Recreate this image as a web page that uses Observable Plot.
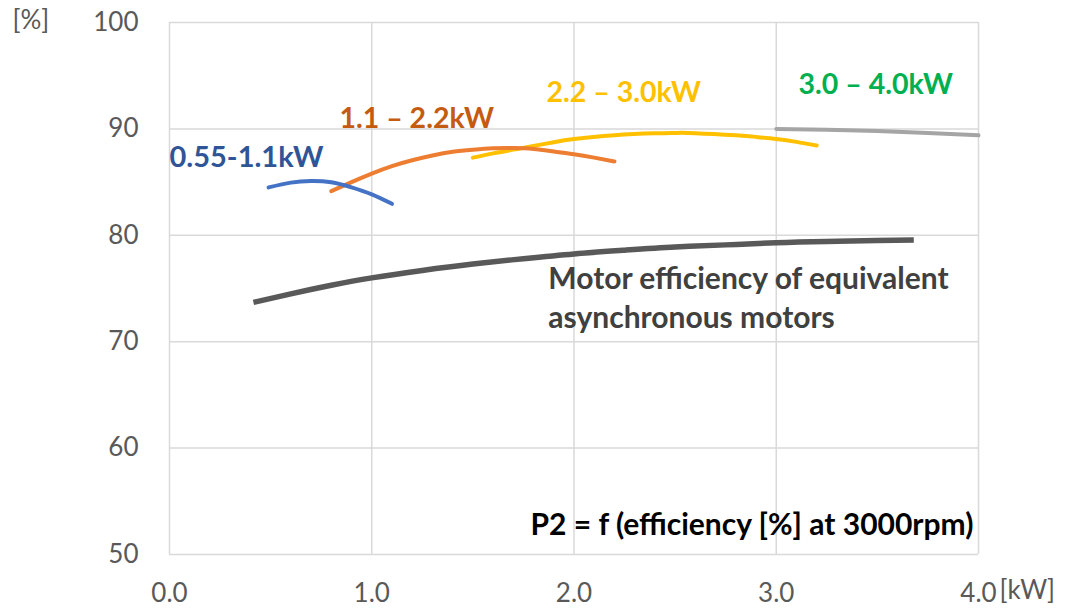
<!DOCTYPE html>
<html><head><meta charset="utf-8">
<script src="https://cdn.jsdelivr.net/npm/d3@7"></script>
<script src="https://cdn.jsdelivr.net/npm/@observablehq/plot@0.6"></script>
<style>body{margin:0;background:#fff;overflow:hidden}</style>
</head><body><div id="chart"></div>
<script>
// Power [kW] and efficiency [%]
const kwA = [0.49, 0.6, 0.7, 0.8, 0.9, 1.0, 1.1];
const effA = [84.5, 84.95, 85.1, 84.98, 84.5, 83.85, 82.96];

const kwB = [0.8, 0.9, 1.0, 1.1, 1.2, 1.3, 1.4, 1.5, 1.6, 1.7, 1.8, 1.9, 2.0, 2.1, 2.2];
const effB = [84.15, 85.0, 85.8, 86.5, 87.05, 87.5, 87.85, 88.05, 88.18, 88.2, 88.12, 87.88, 87.62, 87.3, 86.94];

const kwC = [1.5, 1.6, 1.7, 1.8, 1.9, 2.0, 2.2, 2.4, 2.5, 2.6, 2.8, 2.9, 3.0, 3.1, 3.2];
const effC = [87.3, 87.7, 88.05, 88.4, 88.75, 89.05, 89.4, 89.58, 89.62, 89.6, 89.4, 89.25, 89.05, 88.78, 88.44];

const kwD = [3.0, 3.25, 3.5, 3.75, 4.0];
const effD = [90.0, 89.92, 89.8, 89.62, 89.4];

const kwAsync = [0.415, 0.6, 0.8, 1.0, 1.25, 1.5, 1.75, 2.0, 2.25, 2.5, 2.75, 3.0, 3.25, 3.5, 3.68];
const effAsync = [73.7, 74.5, 75.3, 76.0, 76.7, 77.3, 77.8, 78.25, 78.6, 78.9, 79.1, 79.3, 79.42, 79.5, 79.55];

const seriesNames = ["0.55-1.1kW", "1.1 – 2.2kW", "2.2 – 3.0kW", "3.0 – 4.0kW", "async"];
const xTicks = [0, 1, 2, 3, 4];
const yTicks = [50, 60, 70, 80, 90, 100];

const seriesData = [[kwA, effA], [kwB, effB], [kwC, effC], [kwD, effD], [kwAsync, effAsync]];
const rows = seriesData.flatMap(([k, e], s) => k.map((v, i) => ({series: seriesNames[s], kw: v, eff: e[i]})));
const of = name => rows.filter(r => r.series === name);

const FONT = "Lato, 'Open Sans', sans-serif";

const chart = Plot.plot({
  width: 1071, height: 610,
  marginLeft: 169, marginRight: 93, marginTop: 22, marginBottom: 56,
  style: {fontFamily: FONT, fontSize: "26px", color: "#595959", background: "white", overflow: "visible"},
  x: {domain: [0, 4], label: null},
  y: {domain: [50, 100], label: null},
  marks: [
    Plot.gridX(xTicks, {stroke: "#d9d9d9", strokeOpacity: 1, strokeWidth: 1.5}),
    Plot.gridY(yTicks, {stroke: "#d9d9d9", strokeOpacity: 1, strokeWidth: 1.5}),
    Plot.axisX({ticks: xTicks, tickSize: 0, tickPadding: 29, tickFormat: d => d.toFixed(1), fill: "#595959", fontSize: 26, label: null}),
    Plot.axisY({ticks: yTicks, tickSize: 0, tickPadding: 31, fill: "#595959", fontSize: 26, label: null}),
    Plot.text(["[%]"], {frameAnchor: "top-left", dx: -157, dy: -2, textAnchor: "start", lineAnchor: "middle", fill: "#595959", fontSize: 26}),
    Plot.text(["[kW]"], {frameAnchor: "bottom-right", dx: 21, dy: 36, textAnchor: "start", lineAnchor: "middle", fill: "#595959", fontSize: 26}),
    Plot.line(of("async"), {x: "kw", y: "eff", curve: "natural", stroke: "#595959", strokeWidth: 5.5, strokeLinecap: "butt"}),
    Plot.line(of("3.0 – 4.0kW"), {x: "kw", y: "eff", curve: "natural", stroke: "#a5a5a5", strokeWidth: 4, strokeLinecap: "round"}),
    Plot.line(of("2.2 – 3.0kW"), {x: "kw", y: "eff", curve: "natural", stroke: "#ffc000", strokeWidth: 4, strokeLinecap: "round"}),
    Plot.line(of("1.1 – 2.2kW"), {x: "kw", y: "eff", curve: "natural", stroke: "#ed7d31", strokeWidth: 4, strokeLinecap: "round"}),
    Plot.line(of("0.55-1.1kW"), {x: "kw", y: "eff", curve: "natural", stroke: "#4472c4", strokeWidth: 4, strokeLinecap: "round"}),
    // series labels
    Plot.text(["0.55-1.1kW"], {x: 0.0, y: 87.3, textAnchor: "start", lineAnchor: "middle", fill: "#2f5597", fontWeight: "bold", fontSize: 29}),
    Plot.text(["1.1 – 2.2kW"], {x: 0.84, y: 90.9, textAnchor: "start", lineAnchor: "middle", fill: "#c55a11", fontWeight: "bold", fontSize: 28.5}),
    Plot.text(["2.2 – 3.0kW"], {x: 1.864, y: 93.4, textAnchor: "start", lineAnchor: "middle", fill: "#ffc000", fontWeight: "bold", fontSize: 28.5}),
    Plot.text(["3.0 – 4.0kW"], {x: 3.11, y: 94.1, textAnchor: "start", lineAnchor: "middle", fill: "#00b050", fontWeight: "bold", fontSize: 28.5}),
    Plot.text(["Motor efficiency of equivalent"], {x: 1.873, y: 75.85, textAnchor: "start", lineAnchor: "middle", fill: "#404040", fontWeight: "bold", fontSize: 30}),
    Plot.text(["asynchronous motors"], {x: 1.873, y: 72.2, textAnchor: "start", lineAnchor: "middle", fill: "#404040", fontWeight: "bold", fontSize: 30}),
    Plot.text(["P2 = f (efficiency [%] at 3000rpm)"], {x: 3.975, y: 52.7, textAnchor: "end", lineAnchor: "middle", fill: "#000000", fontWeight: "bold", fontSize: 30})
  ]
});
document.getElementById("chart").appendChild(chart);
</script>
</body></html>
